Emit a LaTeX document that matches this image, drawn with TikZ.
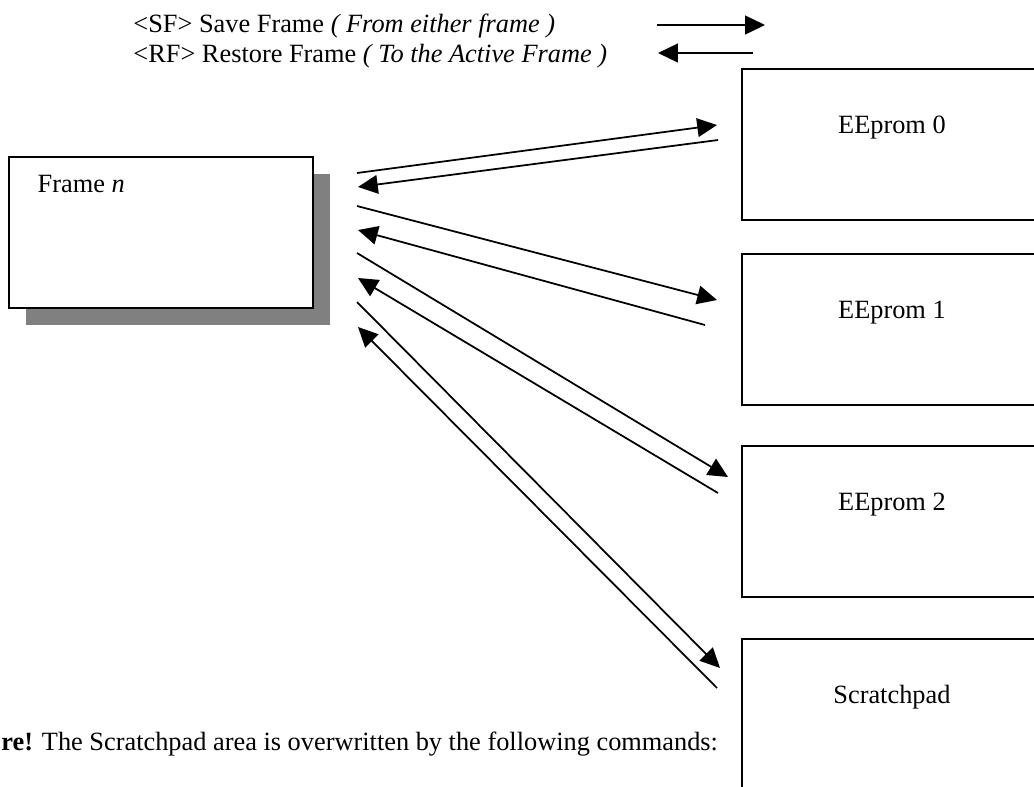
\documentclass[tikz,border=0pt]{standalone}
\usepackage{fontspec}
\setmainfont{Liberation Serif}
\usetikzlibrary{positioning, arrows.meta, shadows}

\begin{document}
\begin{tikzpicture}[
        x=0.016cm, y=-0.016cm,
        font=\fontsize{12}{14.4}\selectfont,
        memory/.style={rectangle, draw, line width=0.9pt, minimum width=4.8cm, minimum height=2.416cm, anchor=north west, inner sep=0pt},
        framebox/.style={rectangle, draw, fill=white, line width=0.9pt, minimum width=4.864cm, minimum height=2.416cm, anchor=north west, inner sep=0pt,
            drop shadow={shadow xshift=7.7pt, shadow yshift=-7.7pt, fill=black!50, opacity=1}},
        note/.style={anchor=base west, inner sep=0pt},
        flow/.style={-{Triangle[length=9pt, width=8.5pt]}, line width=0.8pt}
    ]
    \useasboundingbox (0,0) rectangle (1034,786);
    \clip (0,0) rectangle (1034,786);

    % Legend
    \node[note] (sfnote) at (133,32) {\textless SF\textgreater{} Save Frame \textit{( From either frame )}};
    \node[note] (rfnote) at (133,62) {\textless RF\textgreater{} Restore Frame \textit{( To the Active Frame )}};
    \coordinate (sfa) at (657,25);
    \coordinate (sfb) at (765,25);
    \coordinate (rfa) at (753,53);
    \coordinate (rfb) at (658,53);
    \draw[flow] (sfa) -- (sfb);
    \draw[flow] (rfa) -- (rfb);

    % Active frame
    \node[framebox] (frame) at (8,156) {};
    \node[anchor=base west] (framelabel) at ([xshift=10pt, yshift=-16.4pt]frame.north west) {Frame \textit{n}};

    % Memory areas
    \node[memory] (ee0) at (741,68) {};
    \node[memory] (ee1) at (741,253) {};
    \node[memory] (ee2) at (741,445) {};
    \node[memory] (pad) at (741,638) {};
    \node[anchor=base] (ee0label) at ([yshift=-30pt]ee0.north) {EEprom 0};
    \node[anchor=base] (ee1label) at ([yshift=-30pt]ee1.north) {EEprom 1};
    \node[anchor=base] (ee2label) at ([yshift=-30pt]ee2.north) {EEprom 2};
    \node[anchor=base] (padlabel) at ([yshift=-30pt]pad.north) {Scratchpad};

    % Line ends
    \coordinate (s0) at (357,173);  \coordinate (S0) at (717,125);
    \coordinate (r0) at (358,187);  \coordinate (R0) at (718,140);
    \coordinate (s1) at (357,206);  \coordinate (S1) at (717,300);
    \coordinate (r1) at (358,230);  \coordinate (R1) at (705,325);
    \coordinate (s2) at (357,253);  \coordinate (S2) at (728,477);
    \coordinate (r2) at (358,278);  \coordinate (R2) at (718,493);
    \coordinate (s3) at (357,302);  \coordinate (S3) at (720,668);
    \coordinate (r3) at (358,327);  \coordinate (R3) at (717,688);

    % Save and restore
    \foreach \i in {0,1,2,3} {
        \draw[flow] (s\i) -- (S\i);
        \draw[flow] (R\i) -- (r\i);
    }

    % Warning
    \node[note] (warning) at (1,750) {\textbf{re!} The Scratchpad area is overwritten by the following commands:};

\end{tikzpicture}
\end{document}
